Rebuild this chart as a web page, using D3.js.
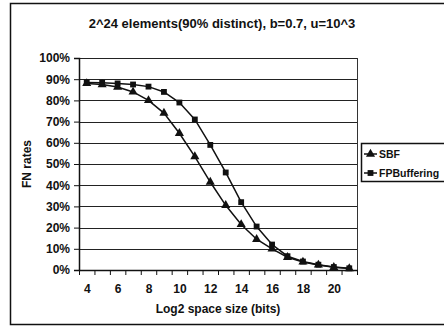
<!DOCTYPE html>
<html>
<head>
<meta charset="utf-8">
<script src="https://cdn.jsdelivr.net/npm/d3@7"></script>
<style>
  html, body { margin: 0; padding: 0; background: #fff; }
  svg { display: block; }
  text { font-family: "Liberation Sans", Arial, Helvetica, sans-serif; font-weight: bold; fill: #111; }
</style>
</head>
<body>
<svg id="chart" width="444" height="328"></svg>
<script>
// Log2 space size (bits)
const sizes = [4, 5, 6, 7, 8, 9, 10, 11, 12, 13, 14, 15, 16, 17, 18, 19, 20, 21];
// FN rates (%)
const sbf =         [88, 87.5, 86.3, 84, 80, 74, 64.5, 53.5, 41.5, 30.5, 21.5, 14.5, 10, 6, 3.8, 2.4, 1.3, 0.7];
const fpBuffering = [88.5, 88.3, 88, 87.5, 86.5, 84, 79, 71, 59, 46, 32, 20.5, 12, 6.5, 4, 2.5, 1.4, 0.8];
const xTickLabels = [4, 6, 8, 10, 12, 14, 16, 18, 20];
const yTickValues = [0, 10, 20, 30, 40, 50, 60, 70, 80, 90, 100];
const seriesNames = ["SBF", "FPBuffering"];

const svg = d3.select("#chart");
const plotLeft = 79, plotRight = 357, plotTop = 58, plotBottom = 270;

const x = d3.scaleLinear().domain([3.5, 21.5]).range([plotLeft, plotRight]);
const y = d3.scaleLinear().domain([0, 100]).range([plotBottom, plotTop]);

// outer frame
svg.append("rect")
  .attr("x", 10.5).attr("y", 3.5).attr("width", 460).attr("height", 321)
  .attr("fill", "none").attr("stroke", "#111").attr("stroke-width", 1.5);

// title
svg.append("text")
  .attr("x", 222).attr("y", 28).attr("text-anchor", "middle")
  .style("font-size", "13px")
  .text("2^24 elements(90% distinct), b=0.7, u=10^3");

// horizontal gridlines
svg.append("g").selectAll("line").data(yTickValues).join("line")
  .attr("x1", plotLeft).attr("x2", plotRight)
  .attr("y1", d => Math.round(y(d)) + 0.5).attr("y2", d => Math.round(y(d)) + 0.5)
  .attr("stroke", "#222").attr("stroke-width", 1);

// right edge of plot area
svg.append("line")
  .attr("x1", plotRight + 0.5).attr("x2", plotRight + 0.5).attr("y1", plotTop).attr("y2", plotBottom)
  .attr("stroke", "#333").attr("stroke-width", 1);

// y axis
const yAxis = svg.append("g").attr("transform", `translate(${plotLeft},0)`)
  .call(d3.axisLeft(y).tickValues(yTickValues).tickFormat(d => d + "%").tickSize(5).tickPadding(4));
yAxis.select(".domain").attr("stroke", "#111").attr("stroke-width", 1.5);
yAxis.selectAll(".tick line").attr("stroke", "#111");
yAxis.selectAll("text").style("font-size", "12px").attr("fill", "#111")
  .style("font-family", "'Liberation Sans', Arial, sans-serif").style("font-weight", "bold");

// x axis: boundary ticks between categories
const xMinor = svg.append("g").attr("transform", `translate(0,${plotBottom})`)
  .call(d3.axisBottom(x).tickValues(d3.range(3.5, 22, 1)).tickFormat("").tickSize(5).tickSizeOuter(0));
xMinor.select(".domain").attr("stroke", "#111").attr("stroke-width", 1.5);
xMinor.selectAll(".tick line").attr("stroke", "#111");

// x axis labels
const xLab = svg.append("g").attr("transform", `translate(0,${plotBottom})`)
  .call(d3.axisBottom(x).tickValues(xTickLabels).tickSize(0).tickPadding(14));
xLab.select(".domain").remove();
xLab.selectAll("text").style("font-size", "12px").attr("fill", "#111")
  .style("font-family", "'Liberation Sans', Arial, sans-serif").style("font-weight", "bold");

// axis titles
svg.append("text")
  .attr("x", (plotLeft + plotRight) / 2).attr("y", 313).attr("text-anchor", "middle")
  .style("font-size", "12px")
  .text("Log2 space size (bits)");
svg.append("text")
  .attr("transform", `translate(31,${(plotTop + plotBottom) / 2}) rotate(-90)`)
  .attr("text-anchor", "middle")
  .style("font-size", "12px")
  .text("FN rates");

// series lines and markers
const line = d3.line().x((d, i) => x(sizes[i])).y(d => y(d));
const triangle = d3.symbol().type(d3.symbolTriangle).size(36);
const square = d3.symbol().type(d3.symbolSquare).size(34);

svg.append("path").datum(fpBuffering).attr("d", line)
  .attr("fill", "none").attr("stroke", "#111").attr("stroke-width", 1.5);
svg.append("path").datum(sbf).attr("d", line)
  .attr("fill", "none").attr("stroke", "#111").attr("stroke-width", 1.5);

svg.append("g").selectAll("path").data(fpBuffering).join("path")
  .attr("transform", (d, i) => `translate(${x(sizes[i])},${y(d)})`)
  .attr("d", square).attr("fill", "#111");
svg.append("g").selectAll("path").data(sbf).join("path")
  .attr("transform", (d, i) => `translate(${x(sizes[i])},${y(d)})`)
  .attr("d", triangle).attr("fill", "#111");

// legend
const legend = svg.append("g");
legend.append("rect")
  .attr("x", 361.5).attr("y", 143.5).attr("width", 100).attr("height", 38)
  .attr("fill", "#fff").attr("stroke", "#111").attr("stroke-width", 1.5);
const legendSymbols = [triangle, square];
seriesNames.forEach((name, i) => {
  const ly = 154 + i * 19;
  legend.append("line").attr("x1", 364).attr("x2", 377).attr("y1", ly).attr("y2", ly)
    .attr("stroke", "#111").attr("stroke-width", 1.5);
  legend.append("path").attr("transform", `translate(370.5,${ly})`)
    .attr("d", legendSymbols[i]).attr("fill", "#111");
  legend.append("text").attr("x", 379).attr("y", ly + 4)
    .style("font-size", "10.5px").text(name);
});
</script>
</body>
</html>
